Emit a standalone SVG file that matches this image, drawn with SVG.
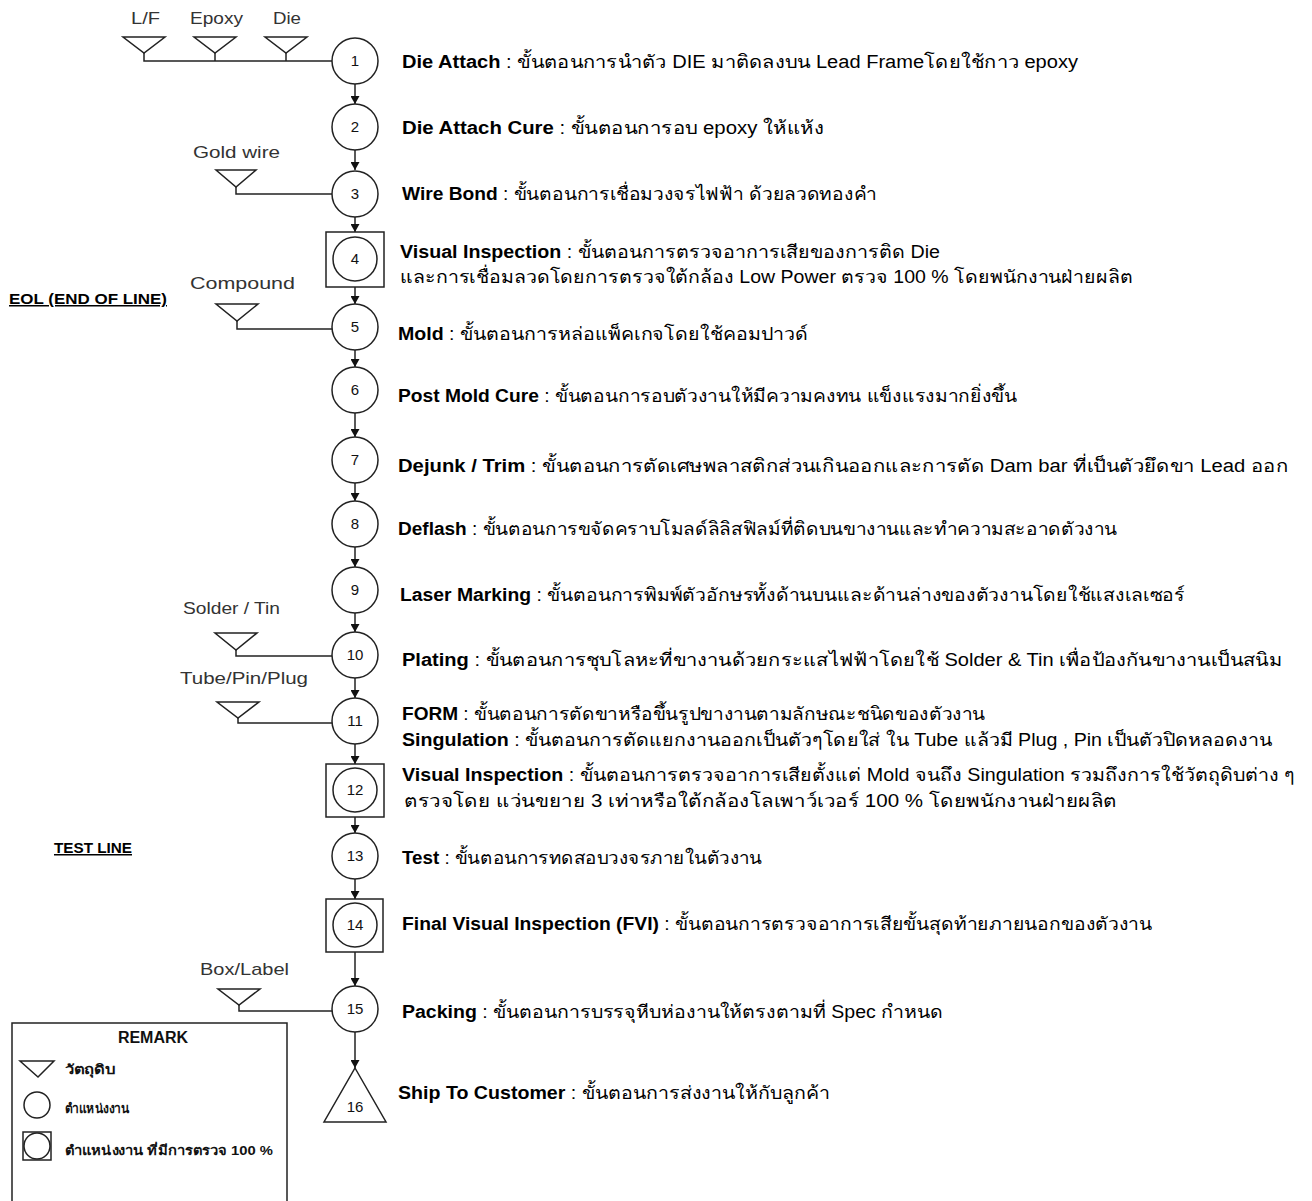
<svg xmlns="http://www.w3.org/2000/svg" width="1312" height="1201" viewBox="0 0 1312 1201">
<defs>
<style>
.ln{stroke:#222;stroke-width:1.5;fill:none}
.st{stroke:#222;stroke-width:1.5;fill:#fff}
.num{font-family:"Liberation Sans","Noto Sans",sans-serif;font-size:15px;fill:#111;text-anchor:middle}
.d{font-family:"Liberation Sans","Noto Sans",sans-serif;font-size:18px;fill:#000}
.b{font-weight:bold}
.lab{font-family:"Liberation Sans","Noto Sans",sans-serif;font-size:17px;fill:#333}
.sec{font-family:"Liberation Sans","Noto Sans",sans-serif;font-size:15px;font-weight:bold;fill:#000;text-decoration:underline}
.lg{font-family:"Liberation Sans","Noto Sans",sans-serif;font-size:13px;font-weight:bold;fill:#111}
</style>
<marker id="ah" markerUnits="userSpaceOnUse" markerWidth="9" markerHeight="9" refX="8" refY="4.5" orient="auto"><path d="M0,0 L8,4.5 L0,9 z" fill="#111"/></marker>
</defs>
<rect width="1312" height="1201" fill="#fff"/>

<g id="connectors">
<polyline class="ln" points="144,53 144,61 332,61"/>
<line class="ln" x1="215" y1="53" x2="215" y2="61"/>
<line class="ln" x1="286" y1="53" x2="286" y2="61"/>
<polyline class="ln" points="236,187 236,194 332,194"/>
<polyline class="ln" points="237,321 237,329 332,329"/>
<polyline class="ln" points="236,650 236,656 332,656"/>
<polyline class="ln" points="238,718 238,723 332,723"/>
<polyline class="ln" points="239,1005 239,1011 332,1011"/>
<line class="ln" x1="355" y1="84" x2="355" y2="104" marker-end="url(#ah)"/>
<line class="ln" x1="355" y1="150" x2="355" y2="170" marker-end="url(#ah)"/>
<line class="ln" x1="355" y1="217" x2="355" y2="232" marker-end="url(#ah)"/>
<line class="ln" x1="355" y1="287" x2="355" y2="304" marker-end="url(#ah)"/>
<line class="ln" x1="355" y1="350" x2="355" y2="367" marker-end="url(#ah)"/>
<line class="ln" x1="355" y1="413" x2="355" y2="437" marker-end="url(#ah)"/>
<line class="ln" x1="355" y1="483" x2="355" y2="501" marker-end="url(#ah)"/>
<line class="ln" x1="355" y1="547" x2="355" y2="567" marker-end="url(#ah)"/>
<line class="ln" x1="355" y1="613" x2="355" y2="632" marker-end="url(#ah)"/>
<line class="ln" x1="355" y1="678" x2="355" y2="698" marker-end="url(#ah)"/>
<line class="ln" x1="355" y1="744" x2="355" y2="764" marker-end="url(#ah)"/>
<line class="ln" x1="355" y1="817" x2="355" y2="833" marker-end="url(#ah)"/>
<line class="ln" x1="355" y1="879" x2="355" y2="899" marker-end="url(#ah)"/>
<line class="ln" x1="355" y1="952" x2="355" y2="986" marker-end="url(#ah)"/>
<line class="ln" x1="355" y1="1032" x2="355" y2="1068" marker-end="url(#ah)"/>
</g>

<g id="mat-lf"><polygon class="st" points="123,37 165,37 144,53"/><text class="lab" x="131" y="24" textLength="29" lengthAdjust="spacingAndGlyphs">L/F</text></g>
<g id="mat-epoxy"><polygon class="st" points="194,37 236,37 215,53"/><text class="lab" x="190" y="24" textLength="53" lengthAdjust="spacingAndGlyphs">Epoxy</text></g>
<g id="mat-die"><polygon class="st" points="265,37 307,37 286,53"/><text class="lab" x="273" y="24" textLength="28" lengthAdjust="spacingAndGlyphs">Die</text></g>
<g id="mat-goldwire"><polygon class="st" points="216,170 256,170 236,187"/><text class="lab" x="193" y="158" textLength="87" lengthAdjust="spacingAndGlyphs">Gold wire</text></g>
<g id="mat-compound"><polygon class="st" points="216,304 258,304 237,321"/><text class="lab" x="190" y="289" textLength="105" lengthAdjust="spacingAndGlyphs">Compound</text></g>
<g id="mat-solder"><polygon class="st" points="215,633 257,633 236,650"/><text class="lab" x="183" y="614" textLength="97" lengthAdjust="spacingAndGlyphs">Solder / Tin</text></g>
<g id="mat-tube"><polygon class="st" points="217,702 259,702 238,718"/><text class="lab" x="180" y="684" textLength="128" lengthAdjust="spacingAndGlyphs">Tube/Pin/Plug</text></g>
<g id="mat-box"><polygon class="st" points="218,989 260,989 239,1005"/><text class="lab" x="200" y="975" textLength="89" lengthAdjust="spacingAndGlyphs">Box/Label</text></g>

<g id="sec-eol"><text class="sec" x="9" y="304" textLength="158" lengthAdjust="spacingAndGlyphs">EOL (END OF LINE)</text></g>
<g id="sec-test"><text class="sec" x="54" y="853" textLength="78" lengthAdjust="spacingAndGlyphs">TEST LINE</text></g>

<g id="n1"><circle class="st" cx="355" cy="61" r="23"/><text class="num" x="355" y="66">1</text>
<text class="d" x="402" y="68" textLength="676" lengthAdjust="spacingAndGlyphs"><tspan class="b">Die Attach</tspan> : ขั้นตอนการนำตัว  DIE มาติดลงบน Lead Frameโดยใช้กาว epoxy</text></g>
<g id="n2"><circle class="st" cx="355" cy="127" r="23"/><text class="num" x="355" y="132">2</text>
<text class="d" x="402" y="134" textLength="422" lengthAdjust="spacingAndGlyphs"><tspan class="b">Die Attach Cure</tspan> : ขั้นตอนการอบ  epoxy ให้แห้ง</text></g>
<g id="n3"><circle class="st" cx="355" cy="194" r="23"/><text class="num" x="355" y="199">3</text>
<text class="d" x="402" y="200" textLength="475" lengthAdjust="spacingAndGlyphs"><tspan class="b">Wire Bond</tspan> : ขั้นตอนการเชื่อมวงจรไฟฟ้า ด้วยลวดทองคำ</text></g>
<g id="n4"><rect class="st" x="326" y="232" width="58" height="55"/><circle class="st" cx="355" cy="259" r="22"/><text class="num" x="355" y="264">4</text>
<text class="d" x="400" y="258" textLength="540" lengthAdjust="spacingAndGlyphs"><tspan class="b">Visual Inspection</tspan> :  ขั้นตอนการตรวจอาการเสียของการติด Die</text>
<text class="d" x="400" y="283" textLength="733" lengthAdjust="spacingAndGlyphs">และการเชื่อมลวดโดยการตรวจใต้กล้อง Low Power ตรวจ 100 % โดยพนักงานฝ่ายผลิต</text></g>
<g id="n5"><circle class="st" cx="355" cy="327" r="23"/><text class="num" x="355" y="332">5</text>
<text class="d" x="398" y="340" textLength="410" lengthAdjust="spacingAndGlyphs"><tspan class="b">Mold</tspan>  : ขั้นตอนการหล่อแพ็คเกจโดยใช้คอมปาวด์</text></g>
<g id="n6"><circle class="st" cx="355" cy="390" r="23"/><text class="num" x="355" y="395">6</text>
<text class="d" x="398" y="402" textLength="619" lengthAdjust="spacingAndGlyphs"><tspan class="b">Post Mold Cure</tspan> : ขั้นตอนการอบตัวงานให้มีความคงทน แข็งแรงมากยิ่งขึ้น</text></g>
<g id="n7"><circle class="st" cx="355" cy="460" r="23"/><text class="num" x="355" y="465">7</text>
<text class="d" x="398" y="472" textLength="890" lengthAdjust="spacingAndGlyphs"><tspan class="b">Dejunk / Trim</tspan> :  ขั้นตอนการตัดเศษพลาสติกส่วนเกินออกและการตัด Dam bar ที่เป็นตัวยึดขา Lead  ออก</text></g>
<g id="n8"><circle class="st" cx="355" cy="524" r="23"/><text class="num" x="355" y="529">8</text>
<text class="d" x="398" y="535" textLength="719" lengthAdjust="spacingAndGlyphs"><tspan class="b">Deflash</tspan> : ขั้นตอนการขจัดคราบโมลด์ลิลิสฟิลม์ที่ติดบนขางานและทำความสะอาดตัวงาน</text></g>
<g id="n9"><circle class="st" cx="355" cy="590" r="23"/><text class="num" x="355" y="595">9</text>
<text class="d" x="400" y="601" textLength="785" lengthAdjust="spacingAndGlyphs"><tspan class="b">Laser Marking</tspan> : ขั้นตอนการพิมพ์ตัวอักษรทั้งด้านบนและด้านล่างของตัวงานโดยใช้แสงเลเซอร์</text></g>
<g id="n10"><circle class="st" cx="355" cy="655" r="23"/><text class="num" x="355" y="660">10</text>
<text class="d" x="402" y="666" textLength="880" lengthAdjust="spacingAndGlyphs"><tspan class="b">Plating</tspan> : ขั้นตอนการชุบโลหะที่ขางานด้วยกระแสไฟฟ้าโดยใช้ Solder &amp; Tin เพื่อป้องกันขางานเป็นสนิม</text></g>
<g id="n11"><circle class="st" cx="355" cy="721" r="23"/><text class="num" x="355" y="726">11</text>
<text class="d" x="402" y="720" textLength="583" lengthAdjust="spacingAndGlyphs"><tspan class="b">FORM</tspan>  : ขั้นตอนการตัดขาหรือขึ้นรูปขางานตามลักษณะชนิดของตัวงาน</text>
<text class="d" x="402" y="746" textLength="870" lengthAdjust="spacingAndGlyphs"><tspan class="b">Singulation</tspan>  : ขั้นตอนการตัดแยกงานออกเป็นตัวๆโดยใส่ ใน Tube แล้วมี Plug , Pin เป็นตัวปิดหลอดงาน</text></g>
<g id="n12"><rect class="st" x="326" y="764" width="58" height="53"/><circle class="st" cx="355" cy="790" r="22"/><text class="num" x="355" y="795">12</text>
<text class="d" x="402" y="781" textLength="893" lengthAdjust="spacingAndGlyphs"><tspan class="b">Visual Inspection</tspan> : ขั้นตอนการตรวจอาการเสียตั้งแต่ Mold จนถึง Singulation รวมถึงการใช้วัตถุดิบต่าง ๆ</text>
<text class="d" x="404" y="807" textLength="713" lengthAdjust="spacingAndGlyphs">ตรวจโดย แว่นขยาย 3 เท่าหรือใต้กล้องโลเพาว์เวอร์  100 % โดยพนักงานฝ่ายผลิต</text></g>
<g id="n13"><circle class="st" cx="355" cy="856" r="23"/><text class="num" x="355" y="861">13</text>
<text class="d" x="402" y="864" textLength="360" lengthAdjust="spacingAndGlyphs"><tspan class="b">Test</tspan> : ขั้นตอนการทดสอบวงจรภายในตัวงาน</text></g>
<g id="n14"><rect class="st" x="326" y="899" width="57" height="53"/><circle class="st" cx="355" cy="925" r="22"/><text class="num" x="355" y="930">14</text>
<text class="d" x="402" y="930" textLength="750" lengthAdjust="spacingAndGlyphs"><tspan class="b">Final Visual Inspection (FVI)</tspan> : ขั้นตอนการตรวจอาการเสียขั้นสุดท้ายภายนอกของตัวงาน</text></g>
<g id="n15"><circle class="st" cx="355" cy="1009" r="23"/><text class="num" x="355" y="1014">15</text>
<text class="d" x="402" y="1018" textLength="541" lengthAdjust="spacingAndGlyphs"><tspan class="b">Packing</tspan> : ขั้นตอนการบรรจุหีบห่องานให้ตรงตามที่ Spec กำหนด</text></g>
<g id="n16"><polygon class="st" points="355,1068 386,1122 324,1122"/><text class="num" x="355" y="1112">16</text>
<text class="d" x="398" y="1099" textLength="432" lengthAdjust="spacingAndGlyphs"><tspan class="b">Ship To Customer</tspan> :  ขั้นตอนการส่งงานให้กับลูกค้า</text></g>

<g id="remark">
<path class="ln" d="M12,1210 L12,1023 L287,1023 L287,1210"/>
<text x="153" y="1043" text-anchor="middle" style="font-family:'Liberation Sans','Noto Sans',sans-serif;font-size:16px;font-weight:bold;fill:#111">REMARK</text>
<polygon class="st" points="20,1061 54,1061 38,1077"/>
<text class="lg" x="65" y="1074" textLength="50" lengthAdjust="spacingAndGlyphs">วัตถุดิบ</text>
<circle class="st" cx="37" cy="1105" r="13"/>
<text class="lg" x="65" y="1113" textLength="64" lengthAdjust="spacingAndGlyphs">ตำแหน่งงาน</text>
<rect class="st" x="23" y="1132" width="28" height="28"/><circle class="st" cx="37" cy="1146" r="13"/>
<text class="lg" x="65" y="1155" textLength="208" lengthAdjust="spacingAndGlyphs">ตำแหน่งงาน ที่มีการตรวจ 100 %</text>
</g>
</svg>
